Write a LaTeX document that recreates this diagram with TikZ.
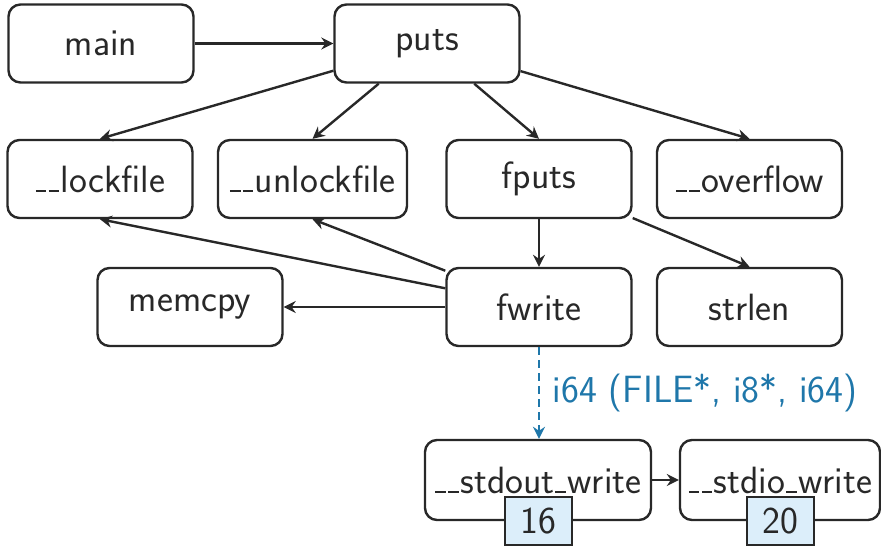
\documentclass[tikz,border=0pt]{standalone}
\usepackage{tikz}
\usetikzlibrary{arrows.meta}
\usepackage{xcolor}
\definecolor{sigblue}{RGB}{31,119,170}
\definecolor{sizefill}{RGB}{220,238,250}
\definecolor{linegray}{RGB}{40,40,40}
\newcommand{\fnfont}{\sffamily\fontsize{19}{23}\selectfont}
\newcommand{\usc}{\kern0.02em\rule{0.28em}{0.05em}\kern0.04em}

\begin{document}
\begin{tikzpicture}[x=0.5pt, y=-0.5pt, >={Stealth[length=6pt, width=6pt, inset=2pt]},
    fn/.style={draw=linegray, line width=1.2pt, rounded corners=6pt, inner sep=3pt,
        minimum width=92.5pt, minimum height=39pt, font=\fnfont, text=linegray},
    sizebox/.style={draw=linegray, line width=1pt, fill=sizefill, inner sep=0pt,
        minimum width=33.5pt, minimum height=24pt, font=\fnfont, text=linegray},
    call/.style={->, draw=linegray, line width=1.2pt}]
    \useasboundingbox (0,0) rectangle (881,545);
    % functions
    \node (main) at (101,43.5) [fn] {main};
    \node (puts) at (427,43.5) [fn] {puts};
    \node (lockfile) at (100,179) [fn] {\usc\usc lockfile};
    \node (unlockfile) at (312.5,179) [fn, minimum width=94.5pt] {\usc\usc unlockfile};
    \node (fputs) at (539,179) [fn] {fputs};
    \node (overflow) at (749.5,179) [fn] {\usc\usc overflow};
    \node (memcpy) at (190,307) [fn] {memcpy};
    \node (fwrite) at (539,307) [fn] {fwrite};
    \node (strlen) at (749.5,307) [fn] {strlen};
    \node (stdoutw) at (538,480) [fn, minimum width=113pt, minimum height=40pt] {\usc\usc stdout\usc write};
    \node (stdiow) at (780,480) [fn, minimum width=100pt, minimum height=40pt] {\usc\usc stdio\usc write};
    % sizes
    \node (size16) at (stdoutw.south) [sizebox] {16};
    \node (size20) at (stdiow.south) [sizebox] {20};
    % calls
    \draw[call] (main) -- (puts);
    \draw[call] (puts) -- (lockfile.north);
    \draw[call] (puts) -- (unlockfile.north);
    \draw[call] (puts) -- (fputs.north);
    \draw[call] (puts) -- (overflow.north);
    \draw[call] (fputs) -- (fwrite);
    \draw[call] (fputs) -- (strlen.north);
    \draw[call] (fwrite) -- (lockfile.south);
    \draw[call] (fwrite) -- (unlockfile.south);
    \draw[call] (fwrite) -- (memcpy);
    \draw[call] (stdoutw) -- (stdiow);
    \draw[call, draw=sigblue, dash pattern=on 4pt off 2.5pt] (fwrite) -- (stdoutw.north -| fwrite)
        node[midway, right, xshift=3pt, text=sigblue, font=\fnfont] {i64 (FILE*, i8*, i64)};
\end{tikzpicture}
\end{document}
